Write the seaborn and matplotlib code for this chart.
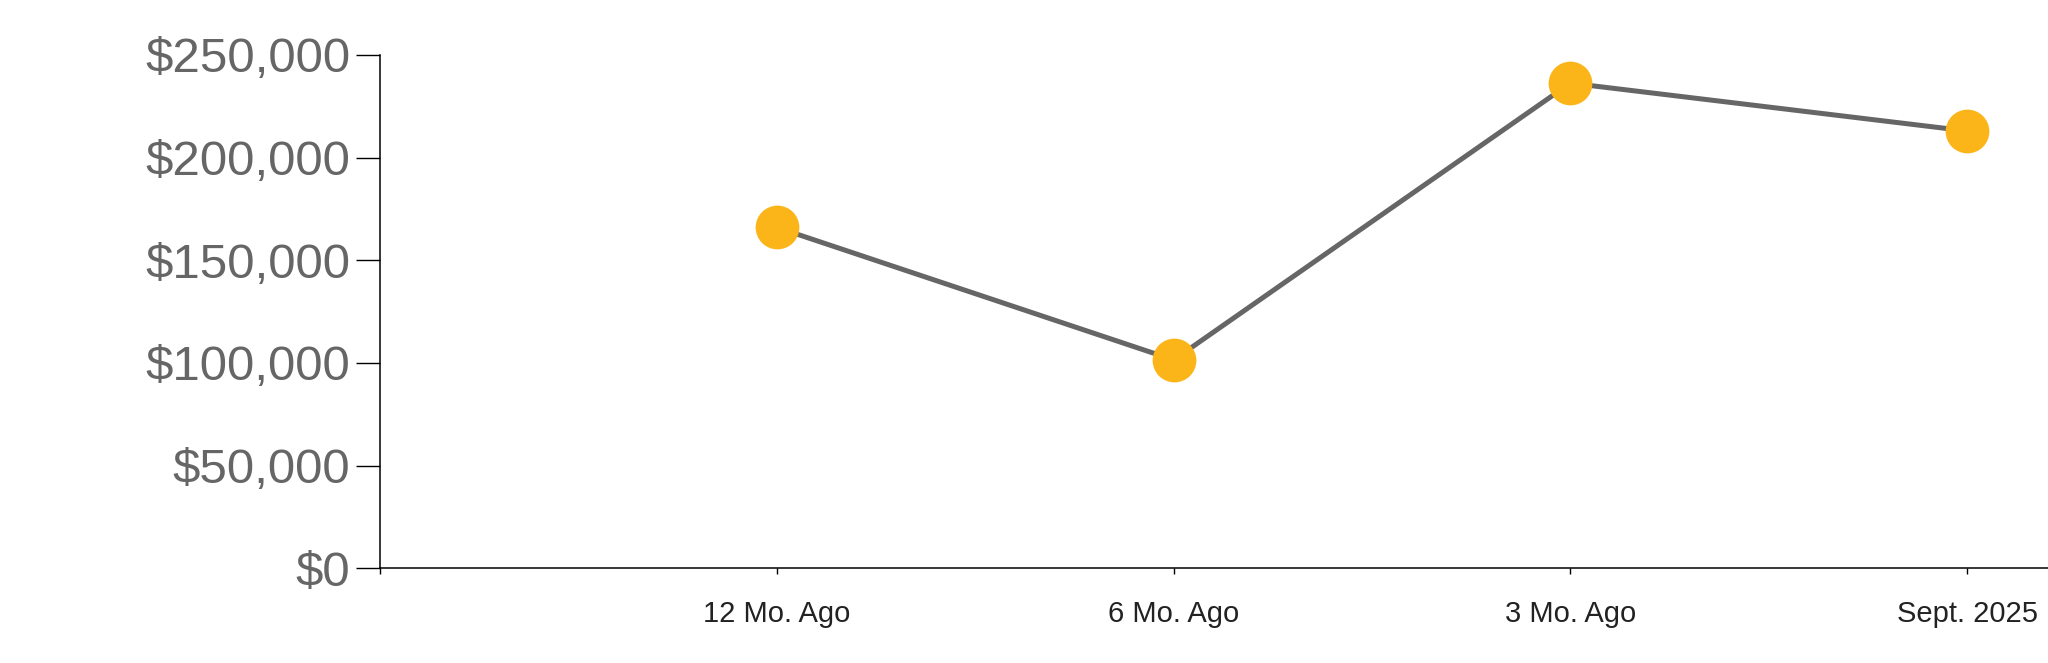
import pandas as pd
import matplotlib
matplotlib.use("Agg")
import matplotlib.pyplot as plt
import seaborn as sns

# chart data
periods = ["12 Mo. Ago", "6 Mo. Ago", "3 Mo. Ago", "Sept. 2025"]
values = [166000, 101500, 236300, 213000]
y_ticks = [0, 50000, 100000, 150000, 200000, 250000]
y_labels = ["$0", "$50,000", "$100,000", "$150,000", "$200,000", "$250,000"]

df = pd.DataFrame({"period": periods, "value": values})

sns.set_style("white")
plt.rcParams["font.family"] = ["Liberation Sans", "DejaVu Sans"]

fig = plt.figure(figsize=(20.48, 6.63), dpi=100)
ax = fig.add_axes([380.3 / 2048, 1 - 568.3 / 663, 1 - 380.3 / 2048, (568.3 - 55) / 663])

sns.lineplot(data=df, x="period", y="value", sort=False, ax=ax,
             color="#666666", linewidth=3.6,
             marker="o", markersize=31.5, markerfacecolor="#FBB519",
             markeredgecolor="#FBB519", markeredgewidth=0)

ax.set_xlim(-1, 3.204)
ax.set_ylim(0, 250000)

# empty first slot gives the outer tick under the y axis
ax.set_xticks([-1, 0, 1, 2, 3])
ax.set_xticklabels([""] + periods, fontsize=21, color="#222222")
ax.set_yticks(y_ticks)
ax.set_yticklabels(y_labels, fontsize=35.5, color="#666666")

ax.tick_params(axis="y", left=True, length=17.5, width=1, color="black", pad=4)
ax.tick_params(axis="x", bottom=True, length=4.5, width=1, color="black", pad=18)

sns.despine(ax=ax, top=True, right=True)
for s in ["left", "bottom"]:
    ax.spines[s].set_color("black")
    ax.spines[s].set_linewidth(1.1)

ax.set_xlabel("")
ax.set_ylabel("")

fig.savefig("out.png", dpi=100)
